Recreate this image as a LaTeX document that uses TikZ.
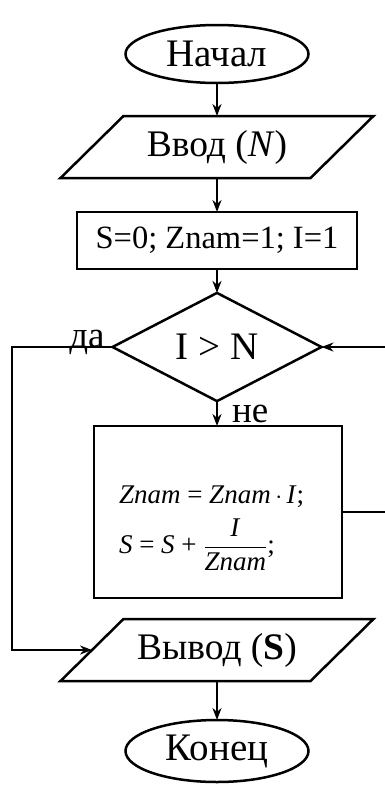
\documentclass[tikz,border=0pt]{standalone}
\usepackage{fontspec}
\setmainfont{Liberation Serif}
\usetikzlibrary{shapes.geometric,arrows.meta}
\begin{document}
\begin{tikzpicture}[x=1pt,y=-1pt,
  line width=2.5pt,
  every node/.style={inner sep=0pt,outer sep=0pt},
  term/.style={draw,ellipse,minimum width=183pt,minimum height=58pt,font=\fontsize{39}{44}\selectfont},
  io/.style={minimum width=250pt,minimum height=62pt,font=\fontsize{37.5}{42}\selectfont},
  proc/.style={draw,rectangle,font=\fontsize{32.5}{38}\selectfont},
  dec/.style={draw,diamond,minimum width=209pt,minimum height=87pt,font=\fontsize{39}{44}\selectfont},
  lbl/.style={font=\fontsize{37}{40}\selectfont},
  fml/.style={font=\fontsize{27}{30}\selectfont},
  arr/.style={-{Stealth[length=12pt,width=9pt]}},
  ]
\useasboundingbox (0,0) rectangle (384,785);
% nodes
\node[term] (start) at (217,54) {Начал};
\node[io] (in) at (217,147) {Ввод (\textit{N})};
\draw ([xshift=31.5pt]in.north west) -- ([xshift=31.5pt]in.north east)
   -- ([xshift=-31.5pt]in.south east) -- ([xshift=-31.5pt]in.south west) -- cycle;
\node[proc,minimum width=280pt,minimum height=57pt] (init) at (217,240.5) {S=0; Znam=1; I=1};
\node[dec] (cond) at (217,347) {I > N};
\node[proc,minimum width=248pt,minimum height=172pt] (body) at (218,512) {};
\node[fml,anchor=base west] (f1) at (119,503) {\textit{Znam} = \textit{Znam}\,$\cdot$\,\textit{I};};
\node[fml,anchor=base west] (f2) at (119,553) {\textit{S} = \textit{S} + $\displaystyle\frac{\mbox{\textit{I}}}{\mbox{\textit{Znam}}}$;};
\node[io] (out) at (217,650) {Вывод (\textbf{S})};
\draw ([xshift=31.5pt]out.north west) -- ([xshift=31.5pt]out.north east)
   -- ([xshift=-31.5pt]out.south east) -- ([xshift=-31.5pt]out.south west) -- cycle;
\node[term,minimum height=62pt] (end) at (217,751) {Конец};
% labels
\node[lbl,anchor=base] (yes) at (87,347) {да};
\node[lbl,anchor=base west] (no) at (232,422) {не};
% connectors
\coordinate (yesL) at (12,347);
\coordinate (loopR) at (393,512);
\draw[arr] (start) -- (in);
\draw[arr] (in) -- (init);
\draw[arr] (init) -- (cond);
\draw[arr] (cond) -- (body.north -| cond);
\draw[arr] (cond.west) -- (yesL) |- (out.west);
\draw[arr] (body.east) -- (loopR) |- (cond.east);
\draw[arr] (out) -- (end);
\end{tikzpicture}
\end{document}
